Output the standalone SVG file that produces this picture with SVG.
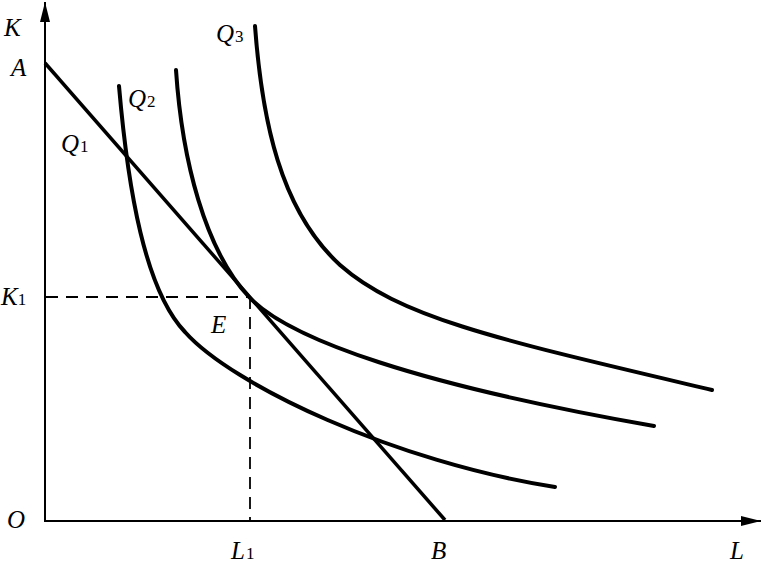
<svg xmlns="http://www.w3.org/2000/svg" width="763" height="563" viewBox="0 0 763 563">
<style>
.axis{stroke:#000;stroke-width:2;fill:none}
.curve{stroke:#000;stroke-width:4;fill:none;stroke-linecap:round}
.budget{stroke:#000;stroke-width:3.5;fill:none}
.dash{stroke:#000;stroke-width:1.8;fill:none;stroke-dasharray:12 8}
text{font-family:"Liberation Serif","Times New Roman",serif;font-size:25px;fill:#000}
.it{font-style:italic}
.sub{font-size:17px;font-style:normal}
</style>
<defs>
<marker id="arr" markerWidth="20" markerHeight="10" refX="20" refY="5" orient="auto" markerUnits="userSpaceOnUse">
<path d="M0,0 L20,5 L0,10 Z" fill="#000"/>
</marker>
</defs>
<rect width="763" height="563" fill="#fff"/>
<g id="connectors">
<line class="axis" x1="45" y1="521" x2="45" y2="2" marker-end="url(#arr)"/>
<line class="axis" x1="44" y1="521" x2="761" y2="521" marker-end="url(#arr)"/>
<path class="dash" d="M46,297 H249"/>
<path class="dash" d="M250,297 V520"/>
<line id="AB" class="budget" x1="45" y1="63" x2="445" y2="520"/>
<path id="Q1" class="curve" d="M119,86 C128,190 145,290 185,332 C232,385 395,462 555,487"/>
<path id="Q2" class="curve" d="M176,70 C182,160 205,250 249,297 C290,340 420,385 654,426"/>
<path id="Q3" class="curve" d="M255,26 C262,120 280,210 340,265 C400,318 500,340 712,390"/>
</g>
<g id="labels">
<text class="it" x="4" y="36">K</text>
<text class="it" x="11" y="76">A</text>
<text x="61" y="152"><tspan class="it">Q</tspan><tspan class="sub" dx="1">1</tspan></text>
<text x="128" y="107"><tspan class="it">Q</tspan><tspan class="sub" dx="1">2</tspan></text>
<text x="216" y="42"><tspan class="it">Q</tspan><tspan class="sub" dx="1">3</tspan></text>
<text x="1" y="305"><tspan class="it">K</tspan><tspan class="sub" dx="0">1</tspan></text>
<text class="it" x="211" y="333">E</text>
<text class="it" x="7" y="528">O</text>
<text x="231" y="559"><tspan class="it">L</tspan><tspan class="sub" dx="1">1</tspan></text>
<text class="it" x="431" y="559">B</text>
<text class="it" x="730" y="559">L</text>
</g>
</svg>
